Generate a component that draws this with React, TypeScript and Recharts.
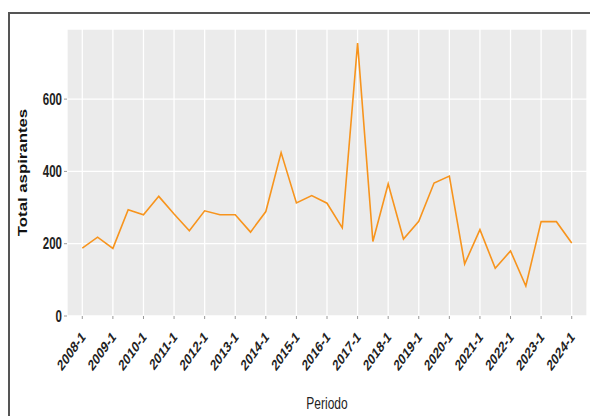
import React from 'react';
import { LineChart, Line, XAxis, YAxis, CartesianGrid, Label } from 'recharts';

const periods = [
  '2008-1', '2008-2', '2009-1', '2009-2', '2010-1', '2010-2', '2011-1', '2011-2',
  '2012-1', '2012-2', '2013-1', '2013-2', '2014-1', '2014-2', '2015-1', '2015-2',
  '2016-1', '2016-2', '2017-1', '2017-2', '2018-1', '2018-2', '2019-1', '2019-2',
  '2020-1', '2020-2', '2021-1', '2021-2', '2022-1', '2022-2', '2023-1', '2023-2',
  '2024-1',
];

const aspirantes = [
  188, 218, 187, 294, 280, 331, 282, 236,
  291, 280, 280, 232, 289, 452, 313, 333,
  312, 244, 755, 206, 366, 213, 262, 368,
  387, 144, 239, 132, 180, 83, 261, 261,
  202,
];

const xTickIndices = [0, 2, 4, 6, 8, 10, 12, 14, 16, 18, 20, 22, 24, 26, 28, 30, 32];
const yTicks = [0, 200, 400, 600];

const data = periods.map((p, i) => ({ idx: i, periodo: p, total: aspirantes[i] }));

const FONT = "'Liberation Sans', Arial, sans-serif";
const STRETCH = 1.4;

const XTick = (props: any) => {
  const { x, y, payload } = props;
  const label = periods[payload.value] ?? '';
  return (
    <g transform={`translate(${x + 1},${y + 13}) scale(1,${STRETCH}) rotate(-45)`}>
      <text x={0} y={0} dy="0.35em" textAnchor="end" fill="#222" fontSize={11} fontWeight="bold" fontFamily={FONT}>
        {label}
      </text>
    </g>
  );
};

const YTick = (props: any) => {
  const { x, y, payload } = props;
  return (
    <g transform={`translate(${x},${y}) scale(1,${STRETCH})`}>
      <text x={0} y={0} dy="0.35em" textAnchor="end" fill="#222" fontSize={11.5} fontWeight="bold" fontFamily={FONT}>
        {payload.value}
      </text>
    </g>
  );
};

const XTitle = (props: any) => {
  const vb = props.viewBox || {};
  const cx = vb.x + vb.width / 2;
  const cy = vb.y + 87;
  return (
    <g transform={`translate(${cx},${cy}) scale(1,${STRETCH})`}>
      <text x={0} y={0} dy="0.35em" textAnchor="middle" fill="#222" fontSize={12} fontFamily={FONT}>
        Periodo
      </text>
    </g>
  );
};

const YTitle = (props: any) => {
  const vb = props.viewBox || {};
  const cx = 23;
  const cy = vb.y + vb.height / 2;
  return (
    <g transform={`translate(${cx},${cy}) rotate(-90) scale(${STRETCH},1)`}>
      <text x={0} y={0} dy="0.35em" textAnchor="middle" fill="#111" fontSize={12} fontWeight="bold" fontFamily={FONT}>
        Total aspirantes
      </text>
    </g>
  );
};

export default function App() {
  return (
    <div style={{ position: 'absolute', left: 0, top: 0, width: 590, height: 416, overflow: 'hidden', background: '#fff' }}>
      <div
        style={{
          position: 'absolute',
          left: 8,
          top: 12,
          width: 700,
          height: 500,
          borderLeft: '2px solid #555',
          borderTop: '2px solid #555',
          boxSizing: 'border-box',
        }}
      />
      <div style={{ position: 'absolute', left: 0, top: 0 }}>
        <LineChart width={590} height={416} data={data} margin={{ top: 29, right: 3, bottom: 0, left: 0 }}>
          <CartesianGrid stroke="#ffffff" strokeWidth={1.3} fill="#EBEBEB" horizontal vertical />
          <XAxis
            dataKey="idx"
            type="number"
            domain={[-0.6, 32.6]}
            allowDataOverflow
            ticks={xTickIndices}
            interval={0}
            height={100}
            tick={<XTick />}
            tickLine={{ stroke: '#999' }}
            tickSize={3}
            axisLine={false}
            allowDecimals={false}
          >
            <Label content={<XTitle />} />
          </XAxis>
          <YAxis
            type="number"
            domain={[0, 794]}
            ticks={yTicks}
            width={67}
            tickSize={3}
            tickLine={{ stroke: '#999' }}
            axisLine={false}
            tick={<YTick />}
            allowDataOverflow
          >
            <Label content={<YTitle />} />
          </YAxis>
          <Line type="linear" dataKey="total" stroke="#F7941D" strokeWidth={1.6} dot={false} isAnimationActive={false} />
        </LineChart>
      </div>
    </div>
  );
}
